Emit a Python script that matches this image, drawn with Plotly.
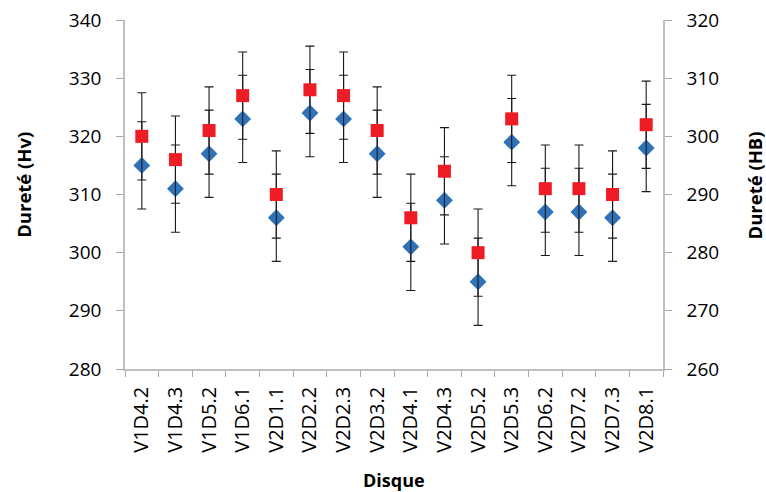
import plotly.graph_objects as go

categories = ["V1D4.2", "V1D4.3", "V1D5.2", "V1D6.1", "V2D1.1", "V2D2.2", "V2D2.3", "V2D3.2",
              "V2D4.1", "V2D4.3", "V2D5.2", "V2D5.3", "V2D6.2", "V2D7.2", "V2D7.3", "V2D8.1"]
hv_values = [315, 311, 317, 323, 306, 324, 323, 317, 301, 309, 295, 319, 307, 307, 306, 318]
hb_values = [300, 296, 301, 307, 290, 308, 307, 301, 286, 294, 280, 303, 291, 291, 290, 302]
hv_error = 7.5
hb_error = 7.5
hv_ticks = [280, 290, 300, 310, 320, 330, 340]
hb_ticks = [260, 270, 280, 290, 300, 310, 320]

FONT = "Open Sans"
err_style = dict(type="constant", color="#1a1a1a", thickness=1.1, width=4.5)

fig = go.Figure()
fig.add_trace(go.Scatter(
    x=categories, y=hv_values, mode="markers", name="Hv",
    marker=dict(symbol="diamond", size=13, color="#2f72b8"),
    error_y=dict(value=hv_error, **err_style),
))
fig.add_trace(go.Scatter(
    x=categories, y=hb_values, mode="markers", name="HB", yaxis="y2",
    marker=dict(symbol="square", size=13, color="#ee1c25"),
    error_y=dict(value=hb_error, **err_style),
))

axis_common = dict(showline=True, linecolor="#bfbfbf", linewidth=1.5, ticks="outside",
                   tickcolor="#a6a6a6", ticklen=7, showgrid=False, zeroline=False,
                   ticklabelstandoff=11, ticklabeloverflow="allow", automargin=False,
                   tickfont=dict(family=FONT, size=19, color="#000"))

fig.update_layout(
    width=766, height=492,
    margin=dict(l=125, r=103, t=20, b=123),
    paper_bgcolor="white", plot_bgcolor="white",
    showlegend=False,
    xaxis=dict(type="category", range=[-0.5, len(categories) - 0.5], tickson="boundaries",
               tickangle=-90, showline=True, linecolor="#bfbfbf", linewidth=1.5,
               ticks="outside", tickcolor="#a6a6a6", ticklen=6, showgrid=False,
               ticklabelstandoff=8, automargin=False,
               tickfont=dict(family=FONT, size=20, color="#000")),
    yaxis=dict(range=[280, 340], tickvals=hv_ticks, **axis_common),
    yaxis2=dict(range=[260, 320], tickvals=hb_ticks, overlaying="y", side="right", **axis_common),
    annotations=[
        dict(text="<b>Dureté (Hv)</b>", x=-0.19, y=0.527, xref="paper", yref="paper",
             textangle=-90, showarrow=False, font=dict(family=FONT, size=18.5, color="#000"),
             xanchor="center", yanchor="middle"),
        dict(text="<b>Dureté (HB)</b>", x=1.17, y=0.527, xref="paper", yref="paper",
             textangle=-90, showarrow=False, font=dict(family=FONT, size=18.5, color="#000"),
             xanchor="center", yanchor="middle"),
        dict(text="<b>Disque</b>", x=0.5, y=-0.318, xref="paper", yref="paper",
             showarrow=False, font=dict(family=FONT, size=18, color="#000"),
             xanchor="center", yanchor="middle"),
    ],
)

fig.write_html("out.html", config={"displayModeBar": False},
               post_script="document.body.style.margin='0';")
